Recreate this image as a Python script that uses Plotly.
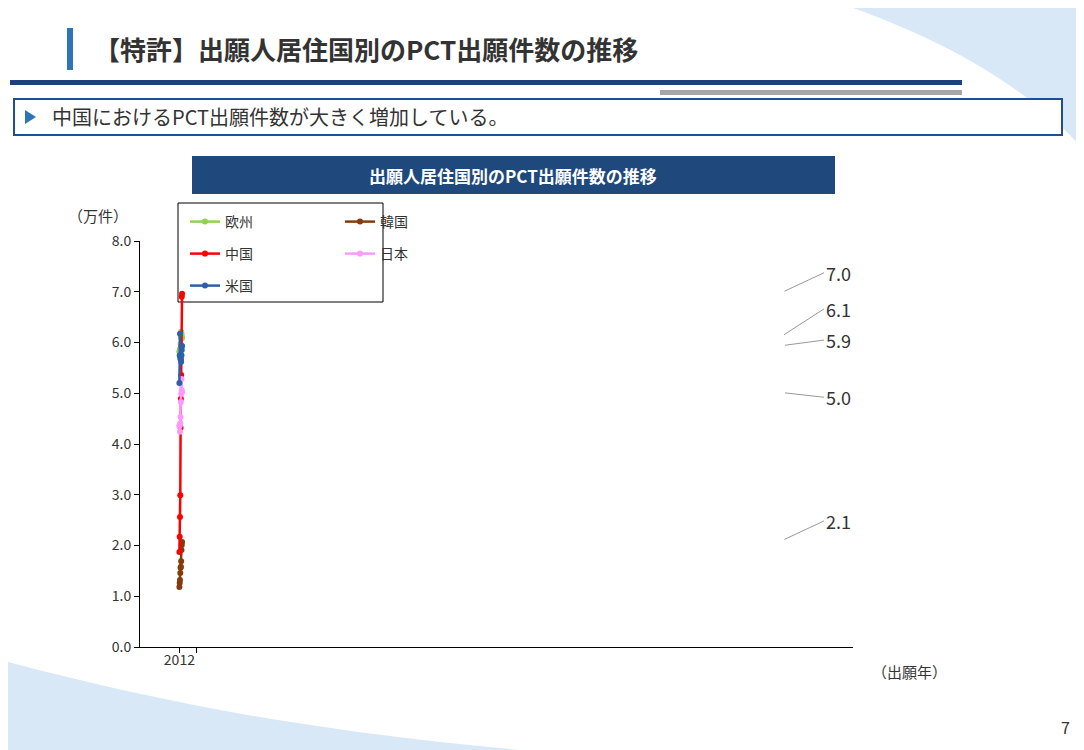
import plotly.graph_objects as go

years = [str(y) for y in range(2012, 2022)]
europe = [5.83, 5.81, 5.87, 5.87, 5.97, 6.09, 6.21, 6.17, 6.13, 6.09]
korea = [1.18, 1.26, 1.32, 1.46, 1.56, 1.58, 1.69, 1.91, 2.01, 2.07]
china = [1.87, 2.17, 2.56, 2.99, 4.32, 4.89, 5.36, 5.93, 6.90, 6.96]
japan = [4.35, 4.37, 4.24, 4.41, 4.53, 4.83, 4.99, 5.28, 5.06, 5.02]
usa = [5.20, 5.75, 6.17, 5.71, 5.67, 5.67, 5.62, 5.75, 5.85, 5.93]

end_labels = ["7.0", "6.1", "5.9", "5.0", "2.1"]
end_values = [china[-1], europe[-1], usa[-1], japan[-1], korea[-1]]
label_offsets = [(45, -21), (45, -29), (45, -6), (45, 5), (45, -21)]

FONT = "Noto Sans CJK JP, Noto Sans, sans-serif"
OFF = 8  # page body offset

# plot area in screenshot pixels
PL, PR, PT, PB = 140, 853, 241, 647


def to_paper(xp, yp):
    return (xp - PL) / (PR - PL), (PB - yp) / (PB - PT)


fig = go.Figure()
series = [("欧州", europe, "#92D050", "legend"), ("韓国", korea, "#843C0C", "legend"),
          ("中国", china, "#FF0000", "legend2"), ("日本", japan, "#FF99FF", "legend2"),
          ("米国", usa, "#2E5FAA", "legend3")]
for name, vals, col, lg in series:
    fig.add_trace(go.Scatter(x=years, y=vals, name=name, mode="lines+markers",
                             line=dict(color=col, width=2.5),
                             marker=dict(size=6, color=col), legend=lg))

for txt, v, (ax, ay) in zip(end_labels, end_values, label_offsets):
    fig.add_annotation(x=years[-1], y=v, text=txt, showarrow=True, arrowhead=0,
                       arrowcolor="#999999", arrowwidth=1, ax=ax, ay=ay,
                       xanchor="left", standoff=6,
                       font=dict(size=18, color="#333333"))


def leg(xp, yp):
    x, y = to_paper(xp, yp)
    return dict(x=x, y=y, xref="paper", yref="paper", xanchor="left", yanchor="top",
                orientation="h", entrywidth=110, bgcolor="rgba(0,0,0,0)",
                font=dict(size=14), itemwidth=30)


fig.update_layout(
    width=1084, height=750, autosize=False,
    margin=dict(l=PL - OFF, r=1084 - PR + OFF, t=PT - OFF, b=750 - PB + OFF),
    paper_bgcolor="white", plot_bgcolor="white",
    font=dict(family=FONT, color="#333333"),
    showlegend=True,
    legend=leg(185, 206), legend2=leg(185, 238), legend3=leg(185, 270),
    xaxis=dict(type="category", showline=True, linecolor="black", ticks="outside",
               tickson="boundaries", ticklen=5, tickcolor="black",
               tickfont=dict(size=14), showgrid=False, tickangle=0),
    yaxis=dict(range=[0, 8], dtick=1, tickformat=".1f", showline=True,
               linecolor="black", ticks="outside", ticklen=5,
               tickcolor="black", tickfont=dict(size=14), showgrid=False,
               zeroline=False),
)


def rect(x0, y0, x1, y1, **kw):
    a0, b0 = to_paper(x0, y0)
    a1, b1 = to_paper(x1, y1)
    return dict(type="rect", x0=a0, y0=b0, x1=a1, y1=b1, xref="paper", yref="paper",
                layer="below", **kw)


def path(points, **kw):
    cmds = []
    for p in points:
        if isinstance(p, str):
            cmds.append(p)
        else:
            a, b = to_paper(*p)
            cmds.append(f"{a:.5f},{b:.5f}")
    return dict(type="path", path=" ".join(cmds), xref="paper", yref="paper",
                layer="below", **kw)


shapes = [
    path(["M", (830, 0), "C", (950, 40), (1030, 90), (1084, 150), "L", (1084, 0), "Z"],
         fillcolor="rgba(200,222,243,0.7)", line_width=0),
    path(["M", (0, 660), "C", (150, 700), (300, 730), (520, 750), "L", (0, 750), "Z"],
         fillcolor="rgba(200,222,243,0.7)", line_width=0),
    rect(67, 28, 73, 70, fillcolor="#2E75B6", line_width=0),
    rect(10, 80, 962, 85, fillcolor="#1F3F7F", line_width=0),
    rect(660, 90, 962, 95, fillcolor="#A6A6A6", line_width=0),
    rect(14, 99, 1062, 135, fillcolor="white", line=dict(color="#1F4E99", width=2)),
    path(["M", (25, 110), "L", (36, 117), "L", (25, 124), "Z"], fillcolor="#2E75B6", line_width=0),
    rect(192, 156, 835, 194, fillcolor="#1F497D", line_width=0),
    rect(178, 203, 383, 302, fillcolor="white", line=dict(color="black", width=1)),
]
fig.update_layout(shapes=shapes)


def text(xp, yp, t, size, color="#333333", bold=False, xanchor="left"):
    xa, ya = to_paper(xp, yp)
    fig.add_annotation(x=xa, y=ya, xref="paper", yref="paper",
                       text=f"<b>{t}</b>" if bold else t,
                       showarrow=False, xanchor=xanchor, yanchor="middle",
                       font=dict(size=size, color=color, family=FONT))


text(92, 48, "【特許】出願人居住国別のPCT出願件数の推移", 26, "#333333", True)
text(50, 117, "中国におけるPCT出願件数が大きく増加している。", 20, "#333333")
text(513, 175, "出願人居住国別のPCT出願件数の推移", 17, "white", True, "center")
text(66, 215, "（万件）", 15)
text(870, 671, "（出願年）", 15)
text(1072, 727, "7", 16, xanchor="right")

fig.write_html("out.html")
